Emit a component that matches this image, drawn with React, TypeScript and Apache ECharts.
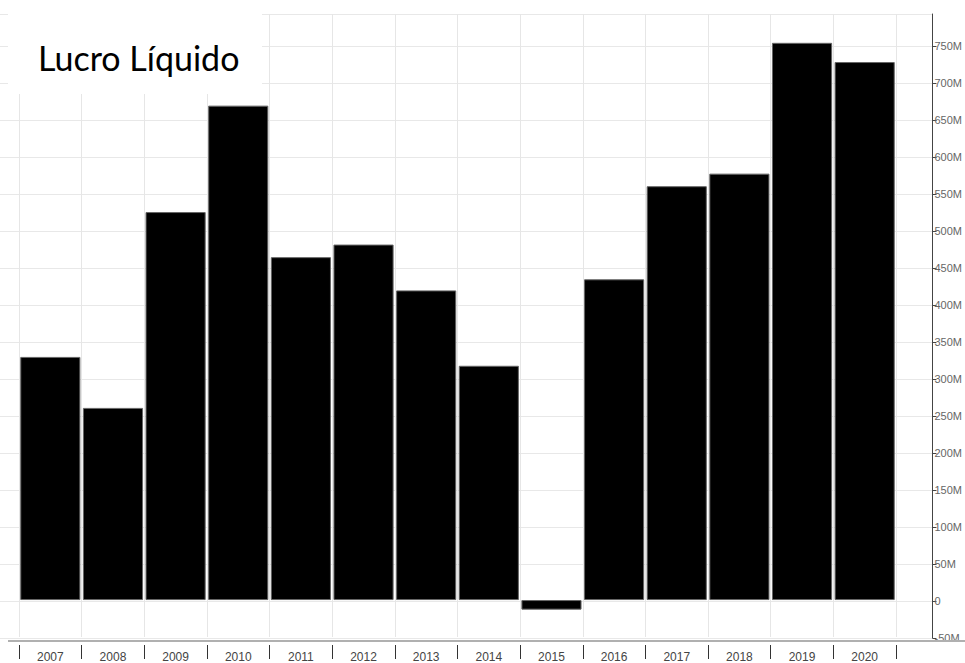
import React, { useEffect, useRef } from "react";
import * as echarts from "echarts";

const years = ["2007", "2008", "2009", "2010", "2011", "2012", "2013", "2014", "2015", "2016", "2017", "2018", "2019", "2020"];
const lucroLiquido = [329, 260, 525, 669, 464, 481, 419, 317, -13, 434, 560, 577, 754, 728]; // millions
const yMin = -50;
const yMax = 793;
const yInterval = 50;
const title = "Lucro Líquido";

export default function App() {
  const ref = useRef<HTMLDivElement>(null);
  useEffect(() => {
    if (!ref.current) return;
    const chart = echarts.init(ref.current, null, { renderer: "svg" });
    const fmt = (v: number) => {
      if (v % yInterval !== 0) return "";
      return v === 0 ? "0" : `${v}M`;
    };
    chart.setOption({
      animation: false,
      backgroundColor: "#ffffff",
      grid: [
        { left: 19, right: 69, top: 14, bottom: 25 },
        { left: 0, right: 27, top: 14, bottom: 25 },
      ],
      xAxis: [
        {
          type: "category",
          data: years,
          gridIndex: 0,
          offset: 8,
          boundaryGap: true,
          axisLine: { show: false, onZero: false },
          axisTick: { show: true, length: 14, lineStyle: { color: "#333", width: 1 } },
          axisLabel: { margin: 6, fontSize: 12, color: "#444", fontFamily: "Liberation Sans, Arial" },
          splitLine: { show: true, lineStyle: { color: "#e6e6e6", width: 1 } },
        },
        {
          type: "value",
          gridIndex: 1,
          show: false,
          axisLine: { onZero: false },
        },
      ],
      yAxis: [
        {
          type: "value",
          gridIndex: 0,
          min: yMin,
          max: yMax,
          interval: yInterval,
          show: false,
          splitLine: { show: false },
        },
        {
          type: "value",
          gridIndex: 1,
          position: "right",
          min: yMin,
          max: yMax,
          interval: yInterval,
          axisLine: { show: true, onZero: false, lineStyle: { color: "#444", width: 1 } },
          axisTick: { show: true, length: 4, lineStyle: { color: "#444" } },
          axisLabel: { formatter: fmt, margin: 2, fontSize: 11, color: "#666", fontFamily: "Liberation Sans, Arial", showMaxLabel: false },
          splitLine: { show: true, lineStyle: { color: "#e8e8e8", width: 1 } },
        },
      ],
      series: [
        {
          type: "bar",
          xAxisIndex: 0,
          yAxisIndex: 0,
          data: lucroLiquido,
          barCategoryGap: "4%",
          itemStyle: { color: "#000000", borderColor: "#666", borderWidth: 1 },
        },
      ],
      graphic: [
        {
          type: "line",
          shape: { x1: 8, y1: 641, x2: 965, y2: 641 },
          style: { stroke: "#b0b0b0", lineWidth: 2 },
          z: 10,
        },
        {
          type: "rect",
          shape: { x: 8, y: 12, width: 254, height: 82 },
          style: { fill: "#ffffff" },
          z: 20,
        },
        {
          type: "text",
          x: 38,
          y: 57,
          style: { text: title, fontSize: 34, fontFamily: "Lato", fill: "#000", textVerticalAlign: "middle" },
          z: 21,
        },
      ],
    });
    return () => chart.dispose();
  }, []);
  return <div ref={ref} style={{ position: "fixed", left: 0, top: 0, width: 965, height: 663 }} />;
}
